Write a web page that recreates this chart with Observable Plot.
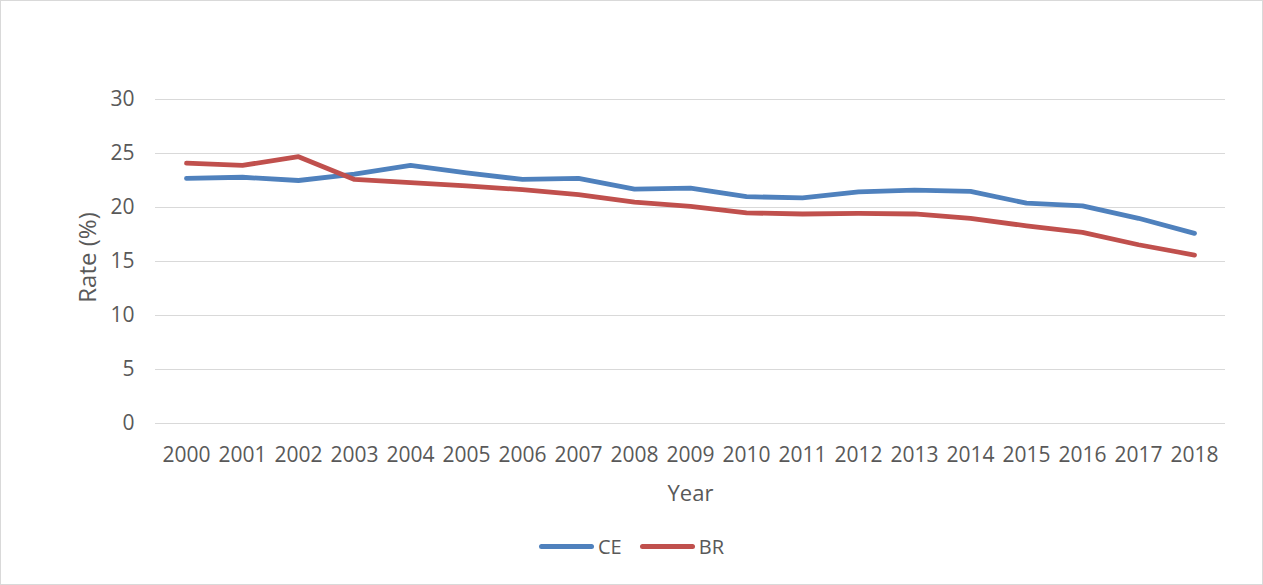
<!DOCTYPE html>
<html>
<head>
<meta charset="utf-8">
<script src="https://cdn.jsdelivr.net/npm/d3@7"></script>
<script src="https://cdn.jsdelivr.net/npm/@observablehq/plot@0.6"></script>
<style>
  html, body { margin: 0; padding: 0; background: #fff; }
  #chart {
    position: relative;
    width: 1263px; height: 585px;
    box-sizing: border-box;
    border: 1px solid #d9d9d9;
    font-family: "Open Sans", "Noto Sans", sans-serif;
    color: #595959;
    overflow: hidden;
  }
  #chart svg { display: block; }
  .legend {
    position: absolute; top: 532px; left: 0; width: 100%;
    display: flex; justify-content: center; align-items: center;
    font-size: 20px; color: #595959;
  }
  .legend .item { display: flex; align-items: center; margin: 0 9px; }
  .legend .swatch { width: 55px; height: 5px; border-radius: 3px; margin-right: 4px; }
</style>
</head>
<body>
<div id="chart"></div>
<script>
// Annual rates (%) for the two series, 2000–2018
const years  = ["2000","2001","2002","2003","2004","2005","2006","2007","2008","2009",
                "2010","2011","2012","2013","2014","2015","2016","2017","2018"];
const ceRate = [22.7, 22.8, 22.5, 23.1, 23.9, 23.2, 22.6, 22.7, 21.7, 21.8,
                21.0, 20.9, 21.45, 21.6, 21.5, 20.4, 20.15, 19.0, 17.6];
const brRate = [24.1, 23.9, 24.7, 22.6, 22.3, 22.0, 21.65, 21.2, 20.5, 20.1,
                19.5, 19.4, 19.45, 19.4, 19.0, 18.3, 17.7, 16.55, 15.6];
const seriesNames  = ["CE", "BR"];
const seriesColors = ["#4f81bd", "#c0504d"];
const yTicks = [0, 5, 10, 15, 20, 25, 30];

const rows = [];
years.forEach((y, i) => {
  rows.push({year: y, rate: ceRate[i], series: "CE"});
  rows.push({year: y, rate: brRate[i], series: "BR"});
});

const textColor = "#595959";

const plot = Plot.plot({
  width: 1261,
  height: 520,
  marginTop: 98,
  marginBottom: 98,
  marginLeft: 154,
  marginRight: 37,
  style: {fontFamily: "'Open Sans', 'Noto Sans', sans-serif", fontSize: "21px", color: textColor, background: "#fff"},
  x: {type: "point", domain: years, padding: 0.5},
  y: {domain: [0, 30]},
  color: {domain: seriesNames, range: seriesColors},
  marks: [
    Plot.ruleY(yTicks, {stroke: "#d9d9d9", strokeWidth: 1}),
    Plot.axisY(yTicks, {tickSize: 0, tickPadding: 21, label: null, fill: textColor}),
    Plot.axisX({tickSize: 0, tickPadding: 24, label: null, fill: textColor}),
    Plot.text(["Rate (%)"], {text: d => d, frameAnchor: "left", textAnchor: "middle",
                             lineAnchor: "middle", rotate: -90, dx: -67, dy: -4,
                             fontSize: 24, fill: textColor}),
    Plot.text(["Year"], {text: d => d, frameAnchor: "bottom", dy: 70, lineAnchor: "middle",
                         fontSize: 22, fill: textColor}),
    Plot.line(rows, {x: "year", y: "rate", z: "series", stroke: "series",
                     strokeWidth: 4.8, strokeLinecap: "round", strokeLinejoin: "round"})
  ]
});

const chart = document.getElementById("chart");
chart.appendChild(plot);

// Legend below the plot
const legend = document.createElement("div");
legend.className = "legend";
seriesNames.forEach((name, i) => {
  const item = document.createElement("div");
  item.className = "item";
  const sw = document.createElement("div");
  sw.className = "swatch";
  sw.style.background = seriesColors[i];
  const label = document.createElement("span");
  label.textContent = name;
  item.appendChild(sw);
  item.appendChild(label);
  legend.appendChild(item);
});
chart.appendChild(legend);
</script>
</body>
</html>
